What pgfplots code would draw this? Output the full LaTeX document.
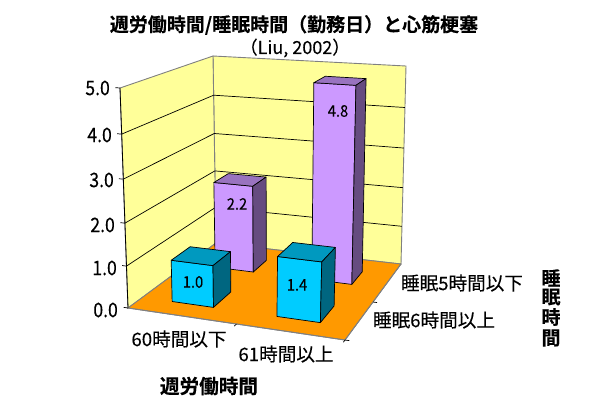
\documentclass[border=0pt]{standalone}
\usepackage{pgfplots}
\pgfplotsset{compat=1.18}
\usepackage{fontspec}
\setmainfont{Noto Sans CJK JP}[FakeBold=0.25]
\newfontfamily\heavy{Noto Sans CJK JP Bold}[FakeBold=0.3]
\definecolor{wall}{HTML}{FFFF99}
\definecolor{floorc}{HTML}{FF9900}
\definecolor{edge}{HTML}{808080}
\definecolor{cyF}{HTML}{00CCFF}
\definecolor{cyT}{HTML}{0099BF}
\definecolor{cyS}{HTML}{006680}
\definecolor{puF}{HTML}{CC99FF}
\definecolor{puT}{HTML}{9973BF}
\definecolor{puS}{HTML}{664C80}
\newcommand\fs[1]{\fontsize{#1}{#1}\selectfont}
% one polygon / line in chart coordinates: u across, d into the page, v = value
\newcommand\Face[3]{\addplot[#1] table[row sep=\\,x expr={PX(\thisrow{u},\thisrow{d},\thisrow{v})},y expr={PY(\thisrow{u},\thisrow{d},\thisrow{v})}] {u d v\\ #2} #3;}
% \Bar{u0}{u1}{d0}{d1}{value}{front}{top}{side}
\newcommand\Bar[8]{%
 \Face{fill=#6,draw=black,line width=.7pt,line join=round}{#1 #3 0\\ #2 #3 0\\ #2 #3 #5\\ #1 #3 #5\\}{--cycle}
 \Face{fill=#7,draw=black,line width=.7pt,line join=round}{#1 #3 #5\\ #2 #3 #5\\ #2 #4 #5\\ #1 #4 #5\\}{--cycle}
 \Face{fill=#8,draw=black,line width=.7pt,line join=round}{#2 #3 0\\ #2 #4 0\\ #2 #4 #5\\ #2 #3 #5\\}{--cycle}}
\begin{document}
\begin{tikzpicture}[x=1pt,y=1pt]
\useasboundingbox (0,0) rectangle (589,408);
\begin{axis}[at={(0,0)},anchor=south west,scale only axis,width=589pt,height=408pt,
 xmin=0,xmax=589,ymin=0,ymax=408,y dir=reverse,hide axis,clip=false,no markers,
 declare function={
  BX(\u,\d)=(1-\u)*(1-\d)*128+\u*(1-\d)*345+(1-\u)*\d*216+\u*\d*401;
  TX(\u,\d)=(1-\u)*(1-\d)*120+\u*(1-\d)*353+(1-\u)*\d*213+\u*\d*406;
  BY(\u,\d)=(1-\u)*(1-\d)*308+\u*(1-\d)*340+(1-\u)*\d*243+\u*\d*264;
  TY(\u,\d)=(1-\u)*(1-\d)*88+\u*(1-\d)*105+(1-\u)*\d*56+\u*\d*66;
  F(\v)=(\v/5)*(0.94+0.012*\v);
  PX(\u,\d,\v)=(1-F(\v))*BX(\u,\d)+F(\v)*TX(\u,\d);
  PY(\u,\d,\v)=(1-F(\v))*BY(\u,\d)+F(\v)*TY(\u,\d);
 }]
% walls and floor
\Face{fill=wall,draw=edge,line width=.9pt}{0 1 0\\ 1 1 0\\ 1 1 5\\ 0 1 5\\}{--cycle}
\Face{fill=wall,draw=edge,line width=.9pt}{0 0 0\\ 0 1 0\\ 0 1 5\\ 0 0 5\\}{--cycle}
\Face{fill=floorc,draw=edge,line width=.9pt}{0 0 0\\ 1 0 0\\ 1 1 0\\ 0 1 0\\}{--cycle}
% gridlines
\Face{draw=black,line width=.7pt}{0 0 1\\ 0 1 1\\ 1 1 1\\}{}
\Face{draw=black,line width=.7pt}{0 0 2\\ 0 1 2\\ 1 1 2\\}{}
\Face{draw=black,line width=.7pt}{0 0 3\\ 0 1 3\\ 1 1 3\\}{}
\Face{draw=black,line width=.7pt}{0 0 4\\ 0 1 4\\ 1 1 4\\}{}
% axis lines and ticks
\Face{draw=black,line width=.8pt}{0 0 0\\ 0 0 5\\}{}
\Face{draw=edge,line width=.9pt}{0 0 0\\ 1 0 0\\ 1 1 0\\}{}
\Face{draw=black,line width=.7pt}{0 0 0\\ -.02 0 0\\}{}
\Face{draw=black,line width=.7pt}{0 0 1\\ -.02 0 1\\}{}
\Face{draw=black,line width=.7pt}{0 0 2\\ -.02 0 2\\}{}
\Face{draw=black,line width=.7pt}{0 0 3\\ -.02 0 3\\}{}
\Face{draw=black,line width=.7pt}{0 0 4\\ -.02 0 4\\}{}
\Face{draw=black,line width=.7pt}{0 0 5\\ -.02 0 5\\}{}
\Face{draw=black,line width=.7pt}{.5 0 0\\ .5 -.03 0\\}{}
\Face{draw=black,line width=.7pt}{1 0 0\\ 1 -.03 0\\}{}
\Face{draw=black,line width=.7pt}{1 0 0\\ 1.02 0 0\\}{}
\Face{draw=black,line width=.7pt}{1 .5 0\\ 1.02 .5 0\\}{}
% bars, back row first
\Bar{.14}{.335}{.68}{.85}{2.2}{puF}{puT}{puS}
\Bar{.635}{.84}{.68}{.85}{4.8}{puF}{puT}{puS}
\Bar{.14}{.335}{.165}{.39}{1.0}{cyF}{cyT}{cyS}
\Bar{.635}{.84}{.165}{.39}{1.4}{cyF}{cyT}{cyS}
% data labels
\node[font=\fs{16}] at (axis cs:193,282) {\scalebox{.92}[1]{1.0}};
\node[font=\fs{16}] at (axis cs:297,285) {\scalebox{.92}[1]{1.4}};
\node[font=\fs{16}] at (axis cs:237,204) {\scalebox{.92}[1]{2.2}};
\node[font=\fs{16}] at (axis cs:338,111) {\scalebox{.92}[1]{4.8}};
% value axis labels
\node[anchor=east,inner sep=0pt,font=\fs{20}] at (axis cs:110,88) {\scalebox{.88}[1]{5.0}};
\node[anchor=east,inner sep=0pt,font=\fs{20}] at (axis cs:112,135) {\scalebox{.88}[1]{4.0}};
\node[anchor=east,inner sep=0pt,font=\fs{20}] at (axis cs:114,180) {\scalebox{.88}[1]{3.0}};
\node[anchor=east,inner sep=0pt,font=\fs{20}] at (axis cs:115,225) {\scalebox{.88}[1]{2.0}};
\node[anchor=east,inner sep=0pt,font=\fs{20}] at (axis cs:117,268) {\scalebox{.88}[1]{1.0}};
\node[anchor=east,inner sep=0pt,font=\fs{20}] at (axis cs:118,310) {\scalebox{.88}[1]{0.0}};
% category labels
\node[font=\fs{18.6}] at (axis cs:179,339) {60時間以下};
\node[font=\fs{18.6}] at (axis cs:286,354) {61時間以上};
\node[font=\fs{18.6}] at (axis cs:462,283) {睡眠5時間以下};
\node[font=\fs{18.6}] at (axis cs:434,320) {睡眠6時間以上};
% axis titles
\node[font=\heavy\fs{19.6}] at (axis cs:209,386) {週労働時間};
\node[font=\heavy\fs{19}] at (axis cs:551,278) {睡};
\node[font=\heavy\fs{19}] at (axis cs:551,297) {眠};
\node[font=\heavy\fs{19}] at (axis cs:551,317) {時};
\node[font=\heavy\fs{19}] at (axis cs:551,338) {間};
% title
\node[font=\heavy\fs{19}] at (axis cs:294,25) {週労働時間/睡眠時間（勤務日）と心筋梗塞};
\node[font=\fs{18}] at (axis cs:295,48) {（Liu, 2002）};
\end{axis}
\end{tikzpicture}
\end{document}
